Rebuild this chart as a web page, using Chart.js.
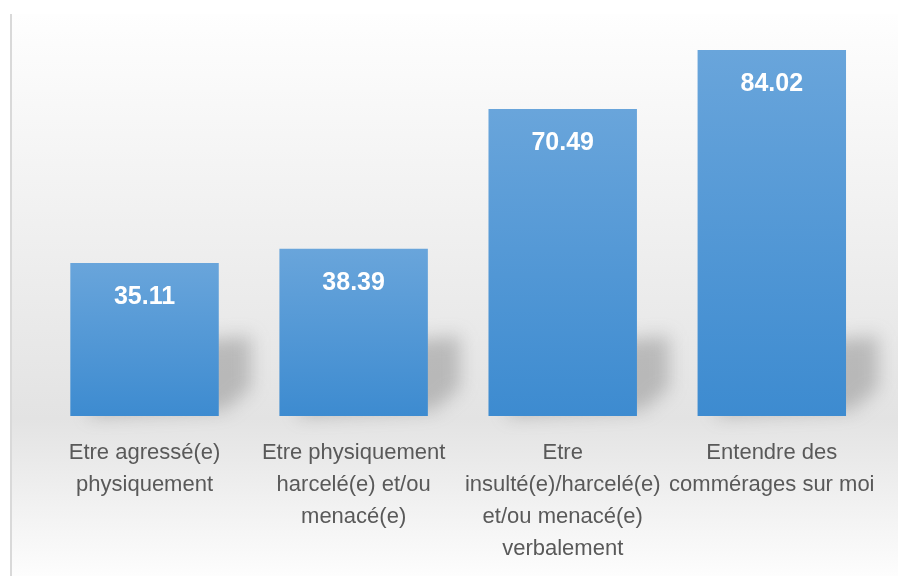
<!DOCTYPE html>
<html>
<head>
<meta charset="utf-8">
<script src="https://cdn.jsdelivr.net/npm/chart.js@4.4.1/dist/chart.umd.min.js"></script>
<style>
  html, body { margin: 0; padding: 0; background: #ffffff; }
  #wrap { width: 898px; height: 576px; position: relative; }
</style>
</head>
<body>
<div id="wrap"><canvas id="barChart"></canvas></div>
<script>
// Data
const categories = [
    ['Etre agressé(e)', 'physiquement'],
    ['Etre physiquement', 'harcelé(e) et/ou', 'menacé(e)'],
    ['Etre', 'insulté(e)/harcelé(e)', 'et/ou menacé(e)', 'verbalement'],
    ['Entendre des', 'commérages sur moi']
];
const values = [35.11, 38.39, 70.49, 84.02];

// Background: soft grey gradient panel with a thin left border
const backgroundPlugin = {
    id: 'panelBackground',
    beforeDraw(chart) {
        const ctx = chart.ctx;
        ctx.save();
        ctx.fillStyle = '#ffffff';
        ctx.fillRect(0, 0, chart.width, chart.height);
        const g = ctx.createLinearGradient(0, 14, 0, chart.height);
        g.addColorStop(0, '#fefefe');
        g.addColorStop(0.72, '#e3e3e3');
        g.addColorStop(1, '#fdfdfd');
        ctx.fillStyle = g;
        ctx.fillRect(10, 14, chart.width - 10, chart.height - 14);
        ctx.fillStyle = '#d9d9d9';
        ctx.fillRect(10, 14, 2, chart.height - 14);
        ctx.restore();
    }
};

// Soft perspective shadow behind each bar
const shadowPlugin = {
    id: 'barShadow',
    beforeDatasetsDraw(chart) {
        const ctx = chart.ctx;
        const meta = chart.getDatasetMeta(0);
        ctx.save();
        ctx.filter = 'blur(9px)';
        meta.data.forEach(bar => {
            const left = bar.x - bar.width / 2;
            const right = bar.x + bar.width / 2;
            const base = bar.base;
            ctx.fillStyle = 'rgba(110, 110, 110, 0.38)';
            ctx.beginPath();
            ctx.moveTo(left + 20, base);
            ctx.lineTo(right + 6, base - 6);
            ctx.lineTo(right + 32, base - 28);
            ctx.lineTo(right + 32, base - 80);
            ctx.lineTo(left + 20, base - 66);
            ctx.closePath();
            ctx.fill();
        });
        ctx.restore();
    }
};

// White value labels inside the top of each bar
const valueLabelPlugin = {
    id: 'valueLabels',
    afterDatasetsDraw(chart) {
        const ctx = chart.ctx;
        const meta = chart.getDatasetMeta(0);
        ctx.save();
        ctx.fillStyle = '#ffffff';
        ctx.font = 'bold 25px "Liberation Sans", Arial, sans-serif';
        ctx.textAlign = 'center';
        ctx.textBaseline = 'middle';
        meta.data.forEach((bar, i) => {
            ctx.fillText(values[i].toFixed(2), bar.x, bar.y + 34);
        });
        ctx.restore();
    }
};

function barGradient(context) {
    const chart = context.chart;
    const yScale = chart.scales.y;
    if (!chart.chartArea || !yScale) return '#5b9bd5';
    const top = yScale.getPixelForValue(values[context.dataIndex]);
    const bottom = yScale.getPixelForValue(0);
    if (!isFinite(top) || !isFinite(bottom)) return '#5b9bd5';
    const g = chart.ctx.createLinearGradient(0, top, 0, bottom);
    g.addColorStop(0, '#69a5db');
    g.addColorStop(1, '#3d8bd0');
    return g;
}

const ctx = document.getElementById('barChart').getContext('2d');
new Chart(ctx, {
    type: 'bar',
    data: {
        labels: categories,
        datasets: [{
            data: values,
            backgroundColor: barGradient,
            borderWidth: 0,
            barPercentage: 0.71,
            categoryPercentage: 1
        }]
    },
    options: {
        responsive: true,
        maintainAspectRatio: false,
        animation: false,
        layout: {
            padding: { left: 40, right: 20, top: 24, bottom: -10 }
        },
        plugins: {
            legend: { display: false },
            tooltip: { enabled: false }
        },
        scales: {
            x: {
                grid: { display: false, drawTicks: false },
                border: { display: false },
                ticks: {
                    color: '#595959',
                    padding: 21,
                    maxRotation: 0,
                    autoSkip: false,
                    font: { family: '"Liberation Sans", Arial, sans-serif', size: 22, lineHeight: 1.4545 }
                }
            },
            y: {
                display: false,
                min: 0,
                max: 90
            }
        }
    },
    plugins: [backgroundPlugin, shadowPlugin, valueLabelPlugin]
});
</script>
</body>
</html>
